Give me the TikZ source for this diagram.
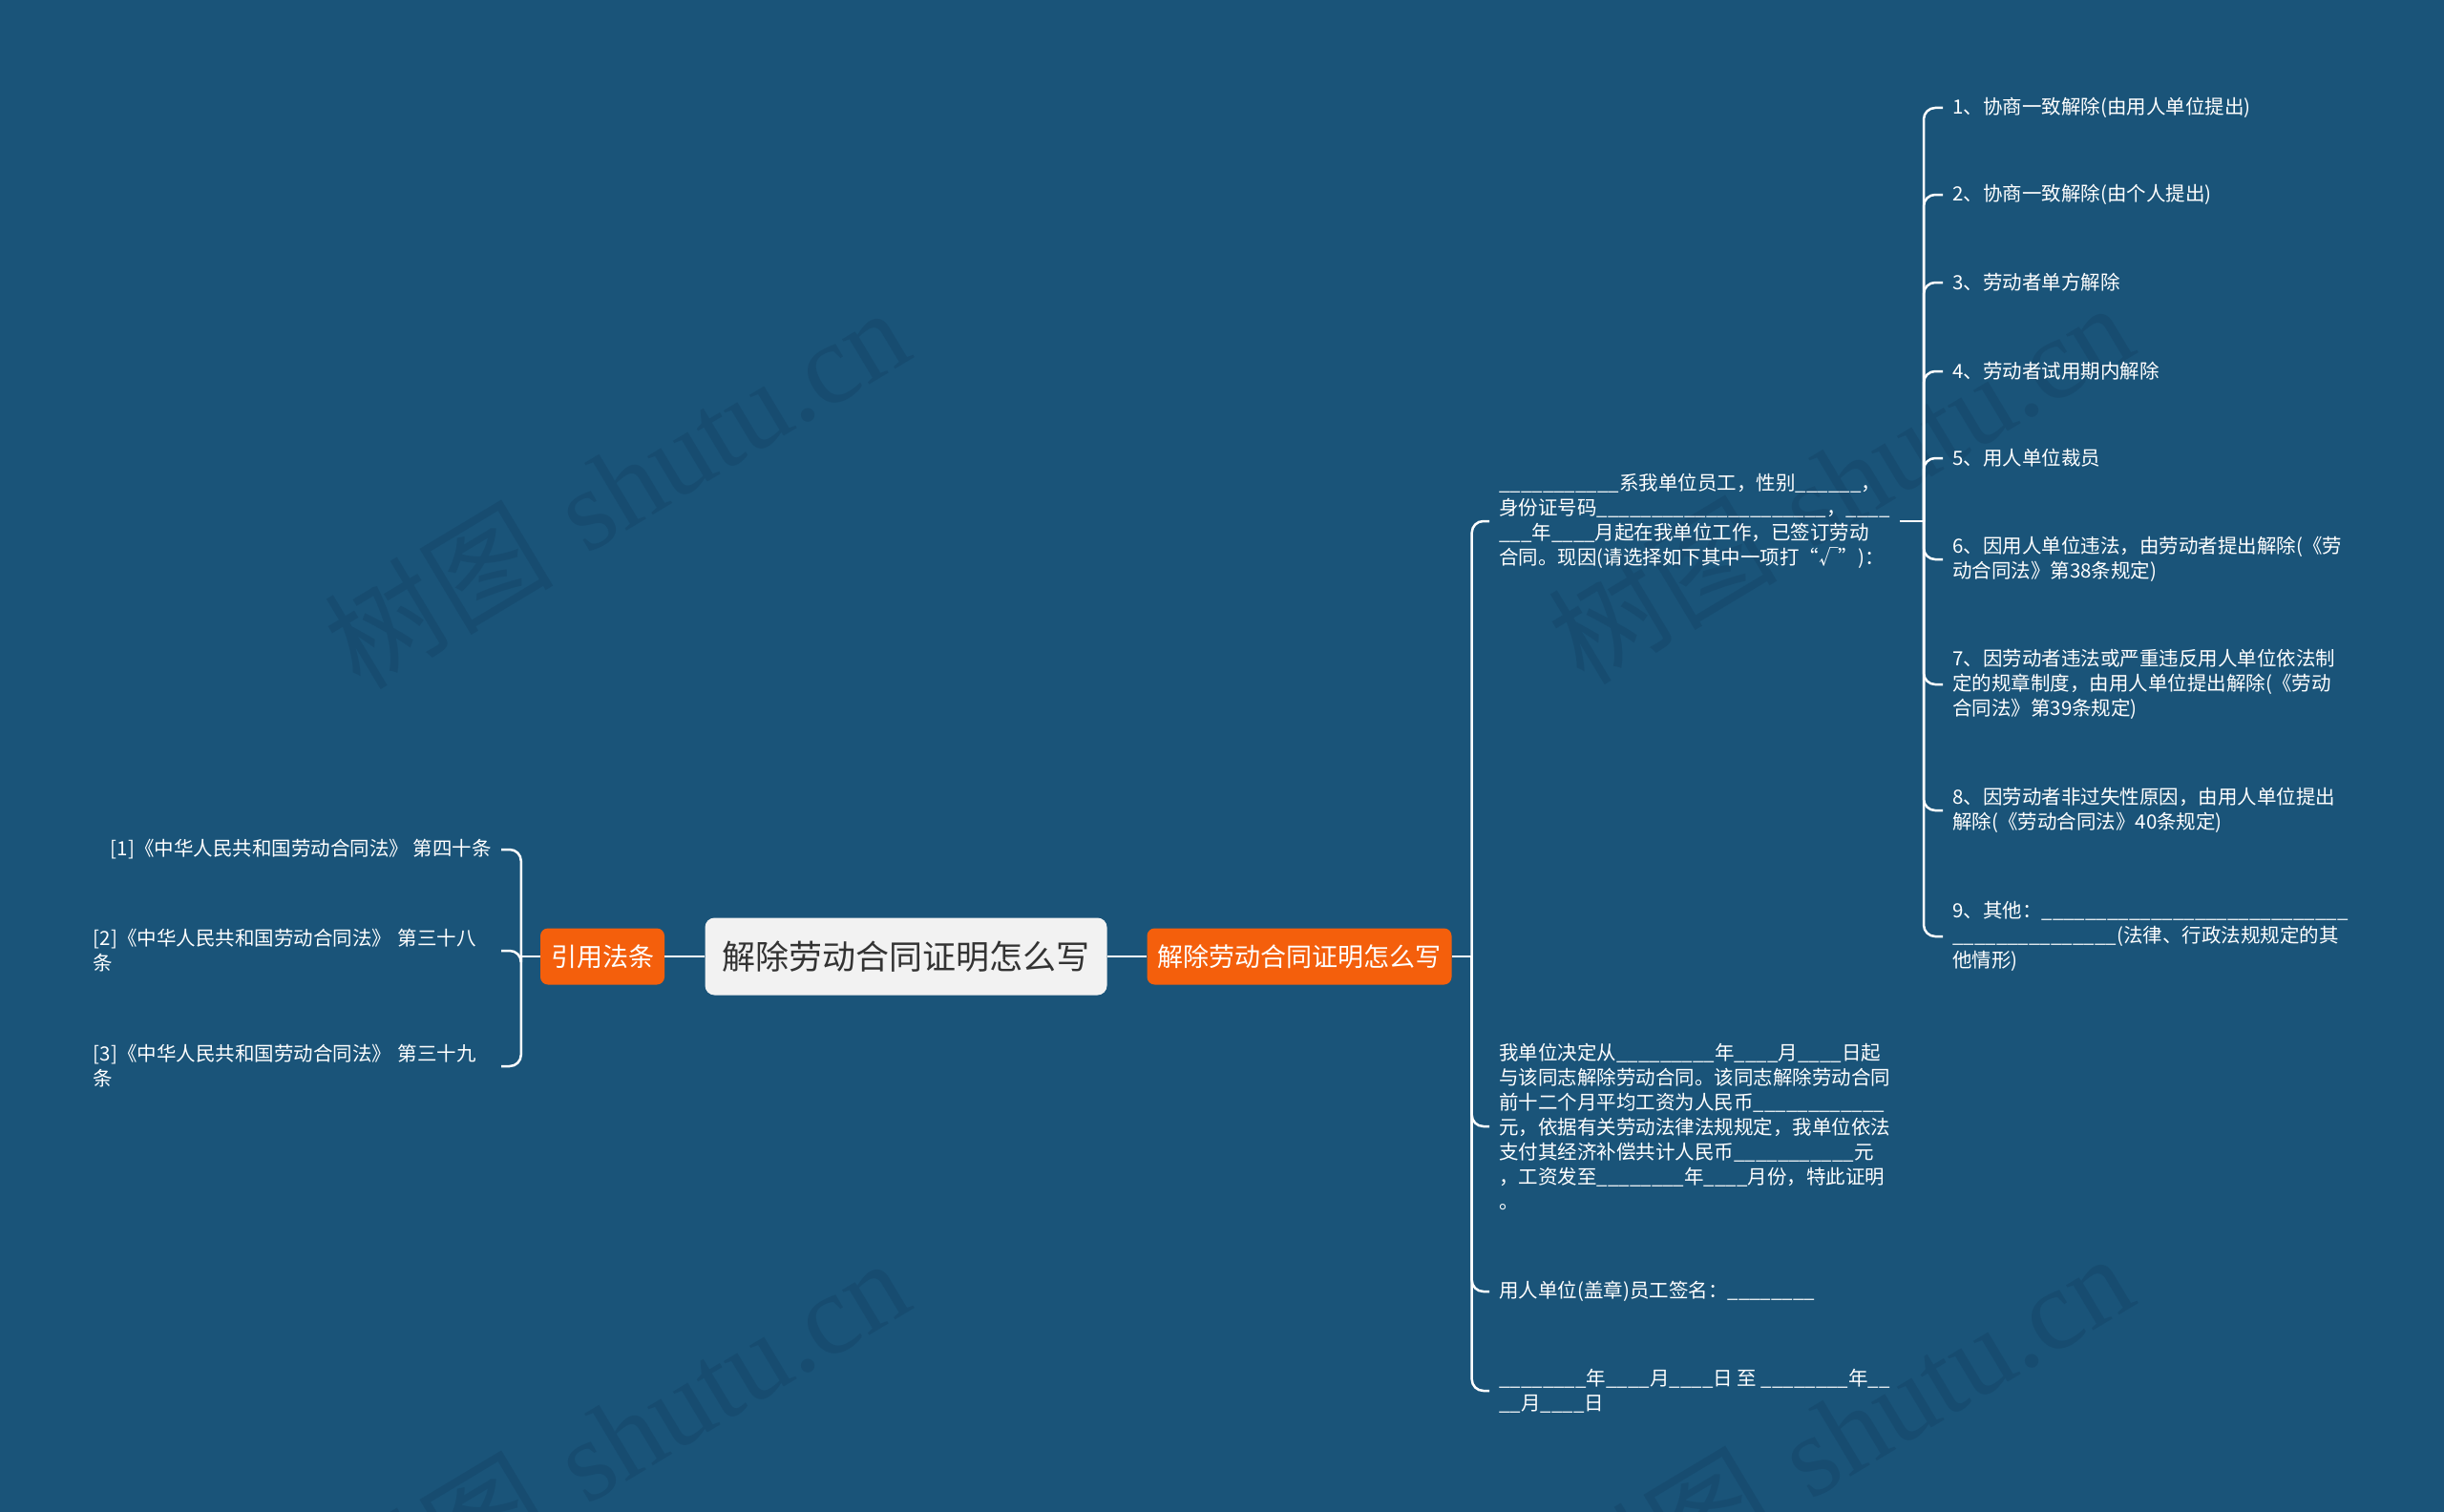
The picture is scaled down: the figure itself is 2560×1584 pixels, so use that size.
\documentclass[tikz,border=0pt]{standalone}
\usepackage{fontspec}
\newfontfamily\cjk{Noto Sans CJK SC}
\newfontfamily\wmserif{Liberation Serif}
\ExplSyntaxOn
\NewDocumentCommand\blk{m}{\prg_replicate:nn{#1}{\_}}
\ExplSyntaxOff
\definecolor{bgC}{HTML}{1A5479}
\definecolor{wmC}{HTML}{174C70}
\definecolor{orangeC}{HTML}{F45F0C}
\definecolor{rootC}{HTML}{F2F2F2}
\definecolor{rootT}{HTML}{333333}
\tikzset{
  conn/.style={draw=white, line width=2.5pt, rounded corners=12pt},
  leaf/.style={font=\cjk\fontsize{20.5}{26}\selectfont, text=white, inner xsep=10pt, inner ysep=0pt, align=left},
  topic/.style={fill=orangeC, text=white, rounded corners=8pt, font=\cjk\fontsize{27}{32}\selectfont, minimum height=59pt, inner xsep=11pt, inner ysep=0pt},
  rootnode/.style={fill=rootC, text=rootT, rounded corners=10pt, font=\cjk\fontsize{35}{40}\selectfont, minimum height=81pt, inner xsep=18pt, inner ysep=0pt},
  wm/.style={text=wmC, font=\fontsize{120}{120}\selectfont, rotate=31, inner sep=0pt}
}
\begin{document}
\begin{tikzpicture}[x=1pt,y=-1pt]
\useasboundingbox (0,0) rectangle (2560,1584);
\fill[bgC] (0,0) rectangle (2560,1584);
% watermarks
\node[wm] (wm1) at (645,510) {{\cjk 树图} {\wmserif shutu.cn}};
\node[wm] (wm2) at (1927,505) {{\cjk 树图} {\wmserif shutu.cn}};
\node[wm] (wm3) at (645,1506) {{\cjk 树图} {\wmserif shutu.cn}};
\node[wm] (wm4) at (1927,1501) {{\cjk 树图} {\wmserif shutu.cn}};
% main nodes
\node[rootnode] (root) at (949,1002) {解除劳动合同证明怎么写};
\node[topic] (orL) at (631,1002) {引用法条};
\node[topic] (orR) at (1361,1002) {解除劳动合同证明怎么写};
\draw[conn] (root.west) -- (orL.east);
\draw[conn] (root.east) -- (orR.west);
% left children
\node[leaf, anchor=east] (L1) at (525,890) {[1]《中华人民共和国劳动合同法》 第四十条};
\node[leaf, anchor=east, text width=417pt] (L2) at (525,996) {[2]《中华人民共和国劳动合同法》 第三十八\\条};
\node[leaf, anchor=east, text width=417pt] (L3) at (525,1117) {[3]《中华人民共和国劳动合同法》 第三十九\\条};
\coordinate (lb) at ([xshift=-20pt]orL.west);
\draw[conn] (orL.west) -- (lb);
\foreach \n in {L1,L2,L3} { \draw[conn] (lb) |- (\n.east); }
% right children
\node[leaf, anchor=west] (R1) at (1560,546) {\blk{11}系我单位员工，性别\blk{6}，\\
身份证号码\blk{21}，\blk{4}\\
\blk{3}年\blk{4}月起在我单位工作，已签订劳动\\
合同。现因(请选择如下其中一项打“√”)：};
\node[leaf, anchor=west] (R2) at (1560,1180) {我单位决定从\blk{9}年\blk{4}月\blk{4}日起\\
与该同志解除劳动合同。该同志解除劳动合同\\
前十二个月平均工资为人民币\blk{12}\\
元，依据有关劳动法律法规规定，我单位依法\\
支付其经济补偿共计人民币\blk{11}元\\
，工资发至\blk{8}年\blk{4}月份，特此证明\\
。};
\node[leaf, anchor=west] (R3) at (1560,1353) {用人单位(盖章)员工签名：\blk{8}};
\node[leaf, anchor=west] (R4) at (1560,1457) {\blk{8}年\blk{4}月\blk{4}日 至 \blk{8}年\blk{2}\\
\blk{2}月\blk{4}日};
\coordinate (rb) at ([xshift=21pt]orR.east);
\draw[conn] (orR.east) -- (rb);
\foreach \n in {R1,R2,R3,R4} { \draw[conn] (rb) |- (\n.west); }
% sub children of R1
\node[leaf, anchor=west] (S1) at (2035,113) {1、协商一致解除(由用人单位提出)};
\node[leaf, anchor=west] (S2) at (2035,204) {2、协商一致解除(由个人提出)};
\node[leaf, anchor=west] (S3) at (2035,296) {3、劳动者单方解除};
\node[leaf, anchor=west] (S4) at (2035,389) {4、劳动者试用期内解除};
\node[leaf, anchor=west] (S5) at (2035,480) {5、用人单位裁员};
\node[leaf, anchor=west] (S6) at (2035,586) {6、因用人单位违法，由劳动者提出解除(《劳\\
动合同法》第38条规定)};
\node[leaf, anchor=west] (S7) at (2035,717) {7、因劳动者违法或严重违反用人单位依法制\\
定的规章制度，由用人单位提出解除(《劳动\\
合同法》第39条规定)};
\node[leaf, anchor=west] (S8) at (2035,849) {8、因劳动者非过失性原因，由用人单位提出\\
解除(《劳动合同法》40条规定)};
\node[leaf, anchor=west] (S9) at (2035,981) {9、其他：\blk{28}\\
\blk{15}(法律、行政法规规定的其\\
他情形)};
\coordinate (sb) at (2015,546);
\draw[conn] (R1.east) -- (sb);
\foreach \n in {S1,S2,S3,S4,S5,S6,S7,S8,S9} { \draw[conn] (sb) |- (\n.west); }
\end{tikzpicture}
\end{document}
